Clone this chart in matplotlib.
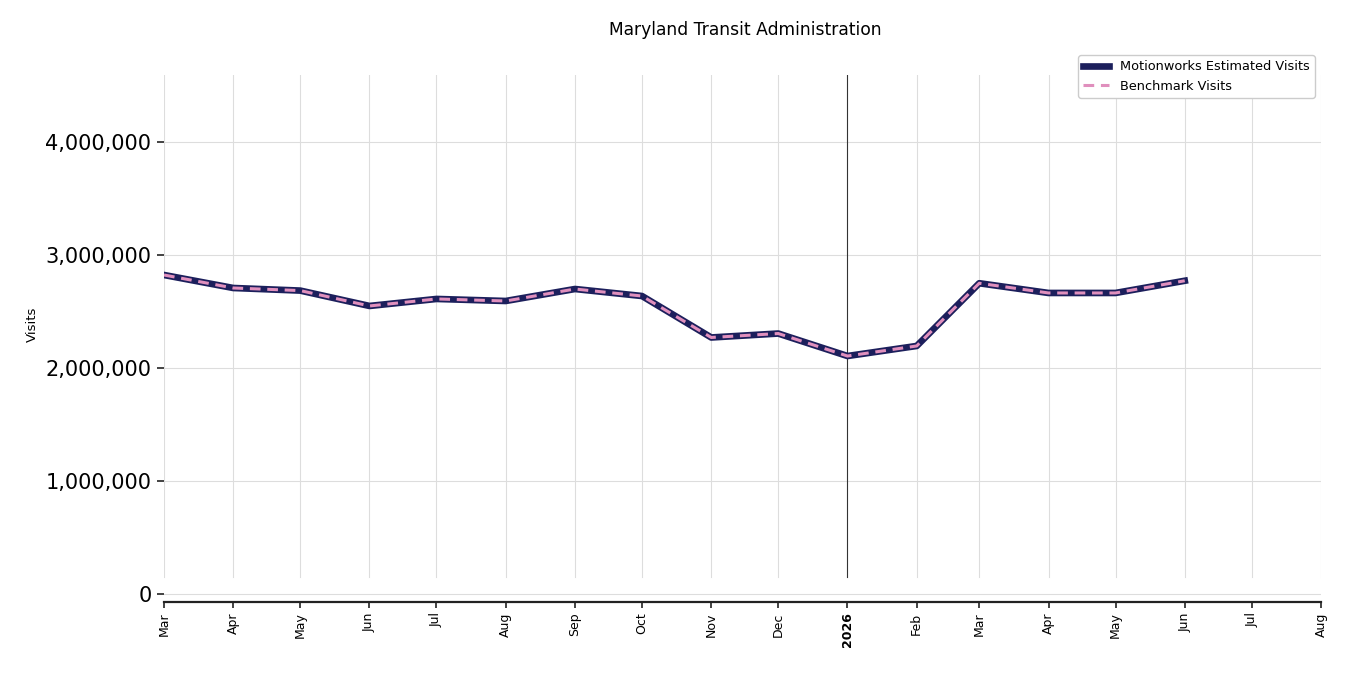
import matplotlib
matplotlib.use('Agg')
import matplotlib.pyplot as plt
import matplotlib.ticker as mticker
import pandas as pd

# Monatswerte Maerz 2025 bis Juni 2026
monate = pd.date_range('2025-03-01', '2026-06-01', freq='MS')
motionworks = [2823000, 2708000, 2685000, 2549000, 2611000, 2593000, 2699000, 2637000,
               2270000, 2305000, 2106000, 2195000, 2750000, 2664000, 2664000, 2772000]
benchmark = [2823000, 2708000, 2685000, 2549000, 2611000, 2593000, 2699000, 2637000,
             2270000, 2305000, 2106000, 2195000, 2750000, 2664000, 2664000, 2772000]

x_ticks = pd.date_range('2025-03-01', '2026-08-01', freq='MS')
y_ticks = [0, 1000000, 2000000, 3000000, 4000000]

fig = plt.figure(figsize=(13.5, 6.75), dpi=100)
ax = fig.add_axes([164 / 1350, 1 - 602 / 675, (1321 - 164) / 1350, (602 - 75) / 675])

ax.set_xlim(x_ticks[0], x_ticks[-1])
ax.set_ylim(-71000, 4593000)

# horizontale Gitterlinien
ax.set_yticks(y_ticks)
ax.yaxis.grid(True, color='#dddddd', linewidth=0.8)
ax.set_axisbelow(True)
# vertikale Linien (enden kurz ueber der Null)
for d in x_ticks:
    if d.month == 1:
        ax.axvline(d, ymin=0.048, ymax=1, color='#333333', linewidth=0.8, zorder=1)
    else:
        ax.axvline(d, ymin=0.048, ymax=1, color='#dddddd', linewidth=0.8, zorder=0)

ax.plot(monate, motionworks, color='#1c1f5c', linewidth=4.8, label='Motionworks Estimated Visits', zorder=3)
ax.plot(monate, benchmark, color='#e08fbd', linewidth=2.2, linestyle=(0, (3.5, 2.2)), label='Benchmark Visits', zorder=4)

ax.yaxis.set_major_formatter(mticker.FuncFormatter(lambda v, p: f'{int(v):,}'))
ax.tick_params(axis='y', labelsize=15, length=5, width=1.2, pad=4, color='#222222')

ax.set_xticks(x_ticks)
labels = []
for d in x_ticks:
    labels.append(str(d.year) if d.month == 1 else d.strftime('%b'))
ax.set_xticklabels(labels, rotation=90, fontsize=9)
for lbl, d in zip(ax.get_xticklabels(), x_ticks):
    if d.month == 1:
        lbl.set_fontweight('bold')
ax.tick_params(axis='x', length=4, width=1.2, color='#222222')

for s in ['left', 'right', 'top']:
    ax.spines[s].set_visible(False)
ax.spines['bottom'].set_linewidth(1.6)
ax.spines['bottom'].set_color('#222222')

ax.set_ylabel('Visits', fontsize=9.5)
ax.yaxis.set_label_coords(-0.108, 0.526)
fig.text(745 / 1350, 1 - 30 / 675, 'Maryland Transit Administration', ha='center', va='center', fontsize=12.3)

ax.legend(loc='upper right', bbox_to_anchor=(1.0, 1.05), fontsize=9.3, frameon=True, framealpha=1,
          edgecolor='#cccccc', fancybox=True)

fig.savefig('out.png', dpi=100)
